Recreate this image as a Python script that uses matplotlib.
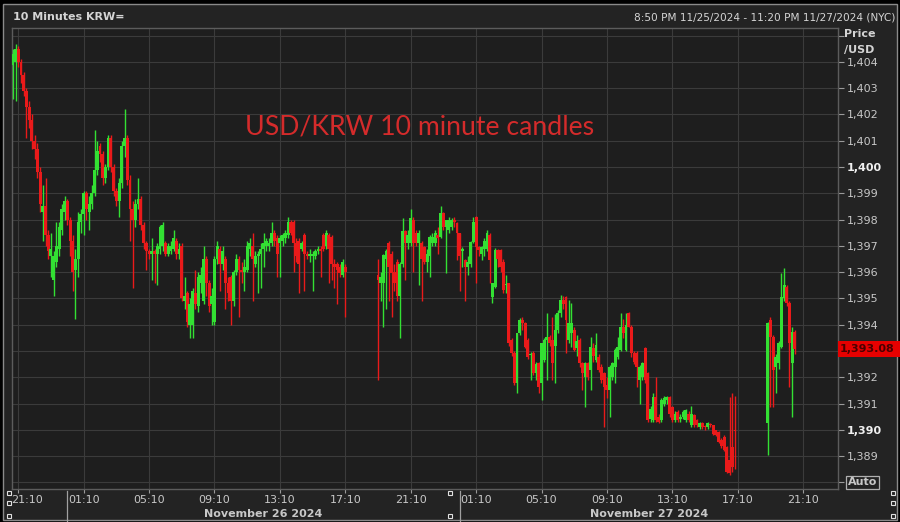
import datetime as dt
import numpy as np
import matplotlib
matplotlib.use("Agg")
import matplotlib.pyplot as plt
import matplotlib.dates as mdates
import matplotlib.transforms as mtransforms
from matplotlib.patches import Rectangle
from matplotlib.lines import Line2D

# ---------------- data ----------------
segment_starts = ["2024-11-25 20:50", "2024-11-26 19:10", "2024-11-27 19:00"]

# (open, high, low, close) per 10-minute candle
seg_a = [
    (1403.9, 1404.5, 1402.6, 1404.3), (1404.0, 1404.7, 1402.5, 1404.5), (1404.5, 1404.6, 1403.8, 1404.0),
    (1404.0, 1404.1, 1403.2, 1403.5), (1403.5, 1403.6, 1402.7, 1402.9), (1402.9, 1403.0, 1401.1, 1402.3),
    (1402.3, 1402.5, 1401.5, 1401.8), (1401.8, 1402.0, 1400.7, 1401.0), (1401.0, 1401.2, 1400.3, 1400.7),
    (1400.7, 1400.9, 1399.6, 1399.8), (1399.8, 1400.0, 1398.3, 1398.6), (1398.3, 1399.3, 1397.2, 1398.5),
    (1398.5, 1399.6, 1397.0, 1397.4), (1397.4, 1397.6, 1396.5, 1396.8), (1396.6, 1397.5, 1395.8, 1396.9),
    (1395.7, 1396.8, 1395.1, 1396.6), (1396.4, 1397.9, 1396.2, 1397.0), (1396.9, 1397.9, 1396.6, 1397.7),
    (1397.6, 1398.6, 1397.4, 1398.4), (1398.3, 1398.9, 1398.0, 1398.7), (1398.7, 1398.8, 1397.8, 1398.0),
    (1398.0, 1398.1, 1396.6, 1397.2), (1397.2, 1397.4, 1395.3, 1396.0), (1396.1, 1396.9, 1394.2, 1396.5),
    (1396.5, 1398.3, 1395.8, 1397.9), (1397.9, 1398.4, 1397.5, 1398.2), (1398.2, 1399.1, 1397.4, 1399.0),
    (1399.0, 1399.1, 1398.0, 1398.4), (1398.3, 1398.9, 1397.6, 1398.6), (1398.6, 1399.3, 1398.4, 1399.0),
    (1399.0, 1401.4, 1398.9, 1399.9), (1399.9, 1401.0, 1399.7, 1400.6), (1400.8, 1400.9, 1400.2, 1400.5),
    (1400.5, 1400.6, 1399.3, 1399.6), (1399.6, 1400.1, 1399.4, 1400.0), (1400.0, 1401.2, 1399.9, 1401.1),
    (1401.1, 1401.2, 1399.8, 1400.0), (1400.0, 1400.1, 1398.9, 1399.1), (1399.1, 1399.2, 1398.5, 1398.7),
    (1398.7, 1399.6, 1398.1, 1399.4), (1399.4, 1401.0, 1399.2, 1400.8), (1400.8, 1402.2, 1400.4, 1401.1),
    (1401.1, 1401.2, 1399.3, 1399.5), (1399.5, 1399.7, 1397.2, 1398.4), (1398.4, 1398.7, 1395.4, 1398.0),
    (1398.0, 1398.8, 1397.7, 1398.6), (1398.6, 1399.6, 1398.4, 1398.8), (1398.8, 1398.9, 1397.6, 1397.8),
    (1397.8, 1397.9, 1396.9, 1397.1), (1397.1, 1397.2, 1396.1, 1396.8), (1396.8, 1396.9, 1396.5, 1396.7),
    (1396.7, 1397.3, 1395.7, 1396.8), (1396.8, 1396.9, 1395.6, 1396.7), (1396.7, 1397.1, 1395.5, 1397.0),
    (1396.9, 1397.8, 1396.7, 1397.7), (1397.0, 1397.9, 1396.8, 1397.8), (1397.1, 1397.2, 1396.6, 1396.7),
    (1396.7, 1397.1, 1396.6, 1397.0), (1396.8, 1397.2, 1396.7, 1397.0), (1396.9, 1397.6, 1396.8, 1397.3),
    (1397.2, 1397.3, 1396.5, 1396.7), (1396.7, 1397.1, 1396.5, 1396.9), (1397.0, 1397.1, 1394.9, 1395.0),
    (1394.9, 1395.8, 1394.6, 1395.1), (1395.2, 1395.3, 1393.9, 1394.1), (1394.0, 1395.0, 1393.5, 1394.8),
    (1394.0, 1395.4, 1393.5, 1395.3), (1395.2, 1396.1, 1394.6, 1394.8), (1394.7, 1396.0, 1394.5, 1395.8),
    (1395.6, 1396.2, 1395.2, 1395.9), (1394.9, 1397.0, 1394.8, 1396.5), (1396.5, 1396.6, 1395.1, 1395.6),
    (1395.6, 1395.7, 1394.5, 1394.7), (1394.8, 1395.4, 1394.0, 1395.1), (1394.1, 1396.6, 1394.0, 1396.5),
    (1396.5, 1397.2, 1396.3, 1397.0), (1396.9, 1397.0, 1395.3, 1396.3), (1396.3, 1397.0, 1396.1, 1396.8),
    (1396.5, 1396.6, 1394.6, 1395.6), (1395.6, 1395.8, 1394.9, 1395.2), (1395.8, 1395.9, 1394.0, 1394.9),
    (1394.9, 1396.1, 1394.7, 1396.0), (1396.0, 1396.7, 1395.9, 1396.5), (1396.5, 1396.6, 1394.3, 1396.1),
    (1396.1, 1396.4, 1395.6, 1396.0), (1396.0, 1396.5, 1395.3, 1396.2), (1396.1, 1397.2, 1396.0, 1397.0),
    (1396.9, 1397.3, 1396.6, 1397.1), (1397.0, 1397.5, 1394.9, 1396.5), (1396.3, 1396.8, 1396.2, 1396.6),
    (1396.6, 1396.8, 1395.2, 1396.7), (1396.7, 1397.1, 1395.4, 1396.9), (1396.9, 1397.5, 1396.2, 1397.1),
    (1397.0, 1397.3, 1396.8, 1397.2), (1397.0, 1397.3, 1396.8, 1397.1), (1397.1, 1397.9, 1397.0, 1397.5),
    (1397.5, 1397.6, 1397.0, 1397.2), (1397.3, 1397.4, 1395.8, 1396.7), (1397.1, 1397.4, 1395.8, 1397.3),
    (1397.2, 1397.5, 1397.0, 1397.4), (1397.3, 1397.6, 1397.1, 1397.5), (1397.4, 1398.1, 1397.3, 1397.9),
    (1397.9, 1398.0, 1397.4, 1397.5), (1397.9, 1398.0, 1396.0, 1397.1), (1397.1, 1397.3, 1396.4, 1396.6),
    (1397.2, 1397.3, 1395.2, 1396.3), (1396.9, 1397.2, 1396.8, 1397.1), (1397.4, 1397.5, 1395.3, 1396.7),
    (1396.7, 1396.8, 1396.5, 1396.6), (1396.6, 1396.9, 1396.4, 1396.7), (1396.6, 1396.8, 1395.3, 1396.7),
    (1396.6, 1396.9, 1396.5, 1396.8), (1396.8, 1397.0, 1396.7, 1396.9), (1396.9, 1397.0, 1395.8, 1396.8),
    (1397.4, 1397.5, 1396.8, 1396.9), (1397.0, 1397.6, 1396.9, 1397.5), (1397.4, 1397.5, 1395.6, 1396.9),
    (1397.35, 1397.4, 1395.7, 1396.3), (1396.3, 1396.5, 1395.4, 1396.2), (1396.3, 1396.4, 1394.8, 1396.1),
    (1396.2, 1396.3, 1395.8, 1395.95), (1395.9, 1396.5, 1395.8, 1396.4), (1396.2, 1396.3, 1394.3, 1396.0),
]

seg_b = [
    (1395.9, 1396.5, 1391.9, 1395.7), (1395.6, 1396.0, 1394.9, 1395.8), (1395.6, 1396.7, 1393.9, 1396.65),
    (1396.5, 1396.9, 1394.6, 1396.8), (1397.1, 1397.2, 1394.9, 1396.2), (1396.7, 1396.8, 1394.3, 1395.95),
    (1396.0, 1396.3, 1395.3, 1395.6), (1396.4, 1396.5, 1394.9, 1395.1), (1395.1, 1396.4, 1393.5, 1396.3),
    (1396.3, 1398.05, 1396.2, 1397.55), (1397.55, 1397.6, 1395.7, 1397.1), (1397.1, 1397.6, 1396.9, 1397.4),
    (1397.1, 1398.4, 1397.0, 1398.05), (1398.0, 1398.1, 1396.0, 1397.1), (1397.5, 1397.6, 1397.0, 1397.1),
    (1397.1, 1397.6, 1395.5, 1397.5), (1397.1, 1397.2, 1394.9, 1396.5), (1396.95, 1397.0, 1396.3, 1396.4),
    (1396.4, 1396.9, 1396.0, 1396.7), (1396.6, 1397.4, 1395.8, 1397.35), (1397.1, 1397.5, 1397.0, 1397.35),
    (1397.1, 1397.6, 1397.0, 1397.5), (1397.4, 1397.7, 1396.7, 1397.3), (1397.35, 1398.5, 1397.3, 1398.24),
    (1398.24, 1398.3, 1397.6, 1397.73), (1397.73, 1398.0, 1395.95, 1397.99), (1397.6, 1398.1, 1397.5, 1397.99),
    (1397.7, 1398.05, 1397.6, 1397.99), (1397.99, 1398.1, 1397.7, 1397.9), (1397.86, 1397.9, 1396.46, 1397.48),
    (1397.48, 1397.5, 1395.3, 1396.6), (1396.8, 1396.95, 1396.2, 1396.9), (1396.47, 1396.5, 1394.9, 1396.2),
    (1396.2, 1396.6, 1395.9, 1396.4), (1396.3, 1397.2, 1396.2, 1397.16), (1397.16, 1398.11, 1397.1, 1397.92),
    (1398.1, 1398.15, 1395.57, 1396.97), (1396.97, 1397.0, 1396.6, 1396.84), (1396.7, 1397.0, 1396.46, 1396.97),
    (1396.9, 1397.3, 1396.6, 1397.2), (1396.9, 1397.6, 1396.8, 1397.48), (1397.41, 1397.5, 1395.57, 1396.46),
    (1395.07, 1395.6, 1394.81, 1395.57), (1395.45, 1396.91, 1395.4, 1396.84), (1396.84, 1396.9, 1396.2, 1396.5),
    (1396.84, 1396.9, 1396.0, 1396.21), (1396.4, 1396.5, 1395.2, 1395.32), (1395.5, 1395.89, 1395.19, 1395.55),
    (1395.57, 1395.6, 1393.2, 1393.29), (1393.42, 1393.5, 1392.8, 1392.91), (1392.91, 1393.0, 1391.7, 1391.77),
    (1391.77, 1393.7, 1391.39, 1393.67), (1393.67, 1394.24, 1393.6, 1394.18), (1394.18, 1394.3, 1393.8, 1394.05),
    (1394.05, 1394.1, 1393.1, 1393.16), (1393.42, 1393.5, 1392.7, 1392.78), (1392.85, 1392.97, 1391.9, 1392.9),
    (1392.91, 1393.0, 1392.1, 1392.15), (1392.15, 1392.6, 1391.9, 1392.5), (1392.53, 1392.6, 1391.4, 1391.64),
    (1391.77, 1393.3, 1391.13, 1393.29), (1392.66, 1393.5, 1392.6, 1393.42), (1393.42, 1394.43, 1391.9, 1393.54),
    (1393.54, 1393.6, 1393.2, 1393.29), (1393.42, 1394.3, 1391.9, 1392.53), (1393.2, 1394.4, 1391.8, 1393.8),
    (1393.8, 1394.56, 1393.7, 1394.43), (1394.43, 1395.13, 1394.3, 1394.94), (1394.94, 1395.1, 1394.6, 1394.8),
    (1395.07, 1395.1, 1392.91, 1394.18), (1393.42, 1394.94, 1393.3, 1394.05), (1393.67, 1394.81, 1393.16, 1394.05),
    (1393.8, 1393.9, 1393.0, 1393.04), (1393.1, 1393.6, 1392.8, 1393.4), (1393.42, 1393.5, 1392.4, 1392.53),
    (1392.53, 1392.6, 1391.51, 1392.15), (1392.02, 1392.6, 1390.88, 1392.53), (1392.53, 1392.6, 1391.9, 1392.02),
    (1392.28, 1393.54, 1391.51, 1393.16), (1393.1, 1393.3, 1392.6, 1392.8), (1392.66, 1393.67, 1392.6, 1393.23),
    (1392.78, 1392.9, 1392.2, 1392.28), (1392.4, 1392.5, 1391.8, 1391.89), (1392.15, 1392.2, 1390.12, 1391.64),
    (1391.7, 1392.0, 1391.2, 1391.5), (1391.51, 1392.45, 1390.5, 1392.4), (1392.02, 1392.6, 1391.9, 1392.53),
    (1392.4, 1393.1, 1391.77, 1393.04), (1392.78, 1393.54, 1392.7, 1393.16), (1393.04, 1394.43, 1393.0, 1393.93),
    (1393.9, 1394.2, 1393.5, 1393.7), (1393.04, 1394.43, 1393.0, 1393.99), (1394.43, 1394.5, 1393.9, 1393.93),
    (1393.93, 1394.0, 1392.78, 1392.91), (1392.91, 1393.0, 1392.5, 1392.6), (1392.91, 1393.0, 1391.64, 1392.4),
    (1391.89, 1392.45, 1391.0, 1392.4), (1392.02, 1392.6, 1391.89, 1392.53), (1393.1, 1393.15, 1391.8, 1391.89),
    (1392.15, 1392.2, 1390.3, 1390.37), (1390.4, 1390.9, 1390.3, 1390.8), (1390.37, 1391.39, 1390.3, 1391.26),
    (1391.26, 1392.0, 1390.3, 1390.37), (1390.5, 1390.6, 1390.25, 1390.31), (1390.37, 1391.2, 1390.3, 1391.13),
    (1391.0, 1391.3, 1390.9, 1391.2), (1391.13, 1391.3, 1391.0, 1391.26), (1391.26, 1391.3, 1390.5, 1390.62),
    (1390.88, 1390.9, 1390.3, 1390.37), (1390.37, 1390.7, 1390.3, 1390.62), (1390.69, 1390.75, 1390.3, 1390.37),
    (1390.4, 1390.6, 1390.3, 1390.5), (1390.5, 1390.75, 1390.4, 1390.69), (1390.37, 1390.8, 1390.3, 1390.75),
    (1390.62, 1390.7, 1390.3, 1390.37), (1390.2, 1390.9, 1390.1, 1390.6), (1390.56, 1390.6, 1390.1, 1390.18),
    (1390.37, 1390.4, 1390.1, 1390.18), (1390.12, 1390.3, 1390.05, 1390.25), (1390.25, 1390.3, 1390.05, 1390.12),
    (1390.12, 1390.2, 1390.0, 1390.1), (1390.12, 1390.3, 1390.05, 1390.25), (1390.2, 1390.25, 1390.1, 1390.18),
    (1390.18, 1390.2, 1389.8, 1389.86), (1389.99, 1390.0, 1389.75, 1389.8), (1389.93, 1389.95, 1389.5, 1389.55),
    (1389.6, 1389.7, 1389.3, 1389.4), (1389.74, 1389.8, 1389.2, 1389.23), (1389.36, 1389.4, 1388.35, 1388.4),
    (1388.85, 1391.26, 1388.3, 1388.34), (1389.36, 1391.39, 1388.4, 1388.6), (1390.0, 1391.3, 1388.5, 1389.95),
]

seg_c = [
    (1390.25, 1394.1, 1389.04, 1394.05), (1394.18, 1394.3, 1390.88, 1393.54), (1393.54, 1393.6, 1390.88, 1392.28),
    (1392.4, 1392.9, 1391.39, 1392.78), (1392.53, 1393.4, 1392.3, 1393.29), (1393.16, 1395.96, 1393.1, 1395.07),
    (1395.0, 1396.15, 1394.9, 1395.51), (1395.45, 1395.5, 1394.7, 1394.81), (1394.81, 1394.9, 1391.64, 1393.29),
    (1392.53, 1393.92, 1390.5, 1393.74), (1393.74, 1393.8, 1392.9, 1393.08),
]

tick_times = ["2024-11-25 21:10", "2024-11-26 01:10", "2024-11-26 05:10", "2024-11-26 09:10",
              "2024-11-26 13:10", "2024-11-26 17:10", "2024-11-26 21:10", "2024-11-27 01:10",
              "2024-11-27 05:10", "2024-11-27 09:10", "2024-11-27 13:10", "2024-11-27 17:10",
              "2024-11-27 21:10"]
tick_labels = ["21:10", "01:10", "05:10", "09:10", "13:10", "17:10", "21:10",
               "01:10", "05:10", "09:10", "13:10", "17:10", "21:10"]
day_breaks = ["2024-11-26 00:10", "2024-11-27 00:10"]
day_labels = ["November 26 2024", "November 27 2024"]
price_grid = list(range(1388, 1406))
price_labels = [1389, 1390, 1391, 1392, 1394, 1395, 1396, 1397, 1398, 1399, 1400, 1401, 1402, 1403, 1404]
bold_prices = [1390, 1400]
last_price = 1393.08
x_window = ("2024-11-25 20:47", "2024-11-27 23:18")
y_window = (1387.75, 1405.29)

# ---------------- styling ----------------
GREEN = "#33e033"
RED = "#ea1a1a"
PANEL = "#232323"
PLOTBG = "#1e1e1e"
GRID = "#3b3b3b"
TXT = "#c8c8c8"
W, H = 900, 522

def parse(s):
    return dt.datetime.strptime(s, "%Y-%m-%d %H:%M")

def fx(px):
    return px / W

def fy(py):
    return 1 - py / H

fig = plt.figure(figsize=(9, 5.22), dpi=100)
fig.patch.set_facecolor("#000000")
fig.add_artist(Rectangle((fx(3), fy(520)), fx(894), 516 / H, transform=fig.transFigure,
                         facecolor=PANEL, edgecolor="#8a8a8a", linewidth=1.0, zorder=0))

ax = fig.add_axes([fx(12), fy(489), fx(826), 461 / H])
ax.set_facecolor(PLOTBG)

# candles
times, o, h, l, c = [], [], [], [], []
for start, seg in zip(segment_starts, [seg_a, seg_b, seg_c]):
    t0 = parse(start)
    for k, (oo, hh, ll, cc) in enumerate(seg):
        times.append(t0 + dt.timedelta(minutes=10 * k))
        o.append(oo); h.append(hh); l.append(ll); c.append(cc)
x = mdates.date2num(times)
o, h, l, c = map(np.array, (o, h, l, c))
step = 10 / 1440
cols = np.where(c >= o, GREEN, RED)
ax.vlines(x, l, h, colors=cols, linewidth=1.0, zorder=3)
bottom = np.minimum(o, c)
height = np.maximum(np.abs(c - o), 0.05)
ax.bar(x, height, width=step * 1.08, bottom=bottom, color=cols, linewidth=0, zorder=4)

ax.set_xlim(mdates.date2num(parse(x_window[0])), mdates.date2num(parse(x_window[1])))
ax.set_ylim(*y_window)

# x axis
tick_x = mdates.date2num([parse(t) for t in tick_times])
ax.set_xticks(tick_x)
ax.set_xticklabels(tick_labels)
ax.tick_params(axis="x", colors="#9a9a9a", labelcolor=TXT, length=3, width=0.8, pad=1.5, labelsize=8)
first = ax.get_xticklabels()[0]
first.set_transform(first.get_transform() + mtransforms.ScaledTranslation(9 / 100, 0, fig.dpi_scale_trans))

# y axis
ax.yaxis.tick_right()
ax.set_yticks(price_grid)
ax.set_yticklabels([f"{v:,}" if v in price_labels else "" for v in price_grid])
ax.tick_params(axis="y", colors="#9a9a9a", labelcolor=TXT, length=4, width=0.8, pad=2, labelsize=8)
for lab, v in zip(ax.get_yticklabels(), price_grid):
    if v in bold_prices:
        lab.set_fontweight("bold")
        lab.set_color("#f0f0f0")

ax.grid(True, color=GRID, linewidth=0.8, zorder=0)
ax.set_axisbelow(True)
for s in ax.spines.values():
    s.set_color("#5c5c5c")
    s.set_linewidth(1.0)

# last price box
blend = mtransforms.blended_transform_factory(fig.transFigure, ax.transData)
ax.add_artist(Rectangle((fx(838), last_price - 0.31), fx(62), 0.62, transform=blend,
                        facecolor="#e60000", edgecolor="none", clip_on=False, zorder=6))
ax.text(fx(840), last_price, f"{last_price:,.2f}", transform=blend, ha="left", va="center",
        fontsize=8, fontweight="bold", color="#4a0000", clip_on=False, zorder=7)

# Auto box
ax.text(fx(848), 1388, "Auto", transform=blend, ha="left", va="center", fontsize=8,
        fontweight="bold", color=TXT, clip_on=False,
        bbox=dict(boxstyle="square,pad=0.15", facecolor="none", edgecolor="#b0b0b0", linewidth=0.9))

# day separators and labels
xb = mtransforms.blended_transform_factory(ax.transData, fig.transFigure)
for b in day_breaks:
    bx = mdates.date2num(parse(b))
    fig.add_artist(Line2D([bx, bx], [fy(522), fy(491)], transform=xb, color="#a0a0a0", linewidth=0.9))
day_px = [ax.transData.transform((mdates.date2num(parse(b)), 0))[0] for b in day_breaks]
ends = day_px[1:] + [ax.transAxes.transform((1, 0))[0]]
for a, e, lab in zip(day_px, ends, day_labels):
    fig.text((a + e) / 2 / W, fy(514), lab, ha="center", va="center", fontsize=8,
             fontweight="bold", color=TXT)

# header
fig.text(fx(13), fy(17), "10 Minutes KRW=", ha="left", va="center", fontsize=8,
         fontweight="bold", color="#d4d4d4")
fig.text(fx(895), fy(17), "8:50 PM 11/25/2024 - 11:20 PM 11/27/2024 (NYC)", ha="right",
         va="center", fontsize=7.6, color="#d4d4d4")
fig.text(fx(844), fy(34), "Price", ha="left", va="center", fontsize=8, fontweight="bold", color="#d4d4d4")
fig.text(fx(844), fy(50), "/USD", ha="left", va="center", fontsize=8, fontweight="bold", color="#d4d4d4")

# annotation
fig.text(fx(245), fy(127), "USD/KRW 10 minute candles", ha="left", va="center",
         fontsize=19.2, family="Lato", color="#d42b2b")

# small handle squares
for px, py in [(9, 493), (9, 503), (9, 516), (450, 493), (450, 516), (893, 493), (893, 503), (893, 516)]:
    fig.add_artist(Line2D([fx(px)], [fy(py)], marker="s", markersize=3, markerfacecolor="none",
                          markeredgecolor="#e0e0e0", markeredgewidth=0.8, transform=fig.transFigure))

fig.savefig("out.png", dpi=100, facecolor=fig.get_facecolor())
